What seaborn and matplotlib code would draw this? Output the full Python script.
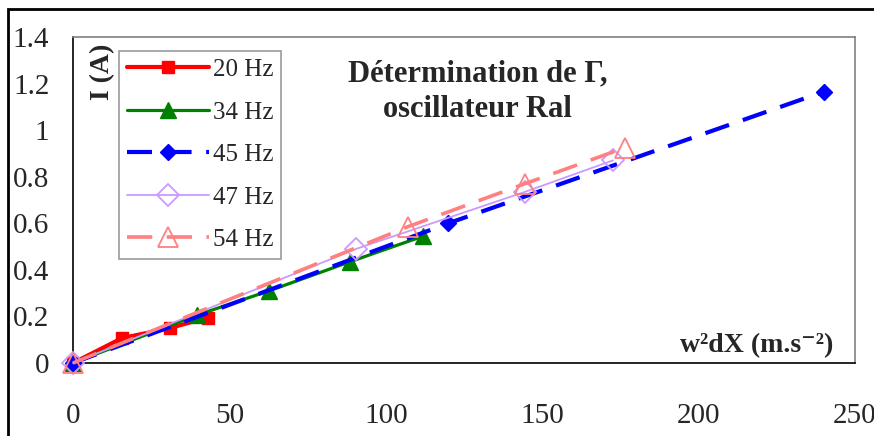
import numpy as np
import pandas as pd
import seaborn as sns
import matplotlib.pyplot as plt
from matplotlib.patches import Rectangle

# data
x_20 = [0, 15.7, 31, 43]
i_20 = [0, 0.107, 0.15, 0.195]
x_34 = [0, 39.5, 62.7, 88.6, 112]
i_34 = [0, 0.205, 0.31, 0.435, 0.545]
x_45 = [0, 120, 240]
i_45 = [0, 0.60, 1.165]
x_47 = [0, 90.5, 144.5, 172.6]
i_47 = [0, 0.49, 0.735, 0.87]
x_54 = [0, 107, 144.5, 176.5]
i_54 = [0, 0.585, 0.77, 0.925]
labels = ["20 Hz", "34 Hz", "45 Hz", "47 Hz", "54 Hz"]

sns.set_style("white")
plt.rcParams['font.family'] = ['Liberation Serif', 'DejaVu Serif']

fig = plt.figure(figsize=(8.74, 4.36), dpi=100)
ax = fig.add_axes([73/874, 1-363/436, (855-73)/874, (363-37)/436])

# outer chart-area border (cut off on the right and bottom in the original)
fig.patches.append(Rectangle((8/874, -0.1), 1.2, 1-9/436+0.1, transform=fig.transFigure,
                             fill=False, edgecolor='black', lw=2))

styles = [
    dict(color='#FF0000', marker='s', linestyle='-', lw=3, ms=9, mfc='#FF0000', mew=1),
    dict(color='#008000', marker='^', linestyle='-', lw=2.3, ms=11, mfc='#008000', mew=1),
    dict(color='#0000FF', marker='D', linestyle=(0, (6, 3.5)), lw=3, ms=8, mfc='#0000FF', mew=1),
    dict(color='#CC99FF', marker='D', linestyle='-', lw=1.3, ms=11, mfc='none', mew=1.3),
    dict(color='#FF8080', marker='^', linestyle=(0, (7, 4)), lw=2.6, ms=15, mfc='none', mew=1.3),
]
series = [(x_20, i_20), (x_34, i_34), (x_45, i_45), (x_47, i_47), (x_54, i_54)]

for (xs, ys), lab, st in zip(series, labels, styles):
    df = pd.DataFrame({'x': xs, 'y': ys})
    sns.lineplot(data=df, x='x', y='y', ax=ax, label=lab, sort=False, estimator=None,
                 color=st['color'], marker=st['marker'], linestyle=st['linestyle'],
                 linewidth=st['lw'], markersize=st['ms'], markeredgewidth=st['mew'],
                 clip_on=False, zorder=3)

for line, st in zip(ax.get_lines(), styles):
    line.set_markeredgecolor(st['color'])
    line.set_markerfacecolor(st['mfc'])

ax.set_xlim(0, 250)
ax.set_ylim(0, 1.4)
ax.set_xticks(np.arange(0, 251, 50))
ax.set_yticks(np.arange(0, 1.41, 0.2))
ax.set_yticklabels(['0', '0.2', '0.4', '0.6', '0.8', '1', '1.2', '1.4'])
ax.tick_params(axis='both', labelsize=21, direction='out', width=1, color='#404040')
ax.tick_params(axis='x', pad=22, length=7)
ax.tick_params(axis='y', pad=9, length=8)
ax.set_xlabel('')
ax.set_ylabel('')

for s in ['top', 'right']:
    ax.spines[s].set_color('#808080')
    ax.spines[s].set_linewidth(1.2)
for s in ['left', 'bottom']:
    ax.spines[s].set_color('black')
    ax.spines[s].set_linewidth(1.2)

ax.text(30/782, 0.98, 'I (A)', transform=ax.transAxes, rotation=90, fontsize=20,
        fontweight='bold', ha='center', va='top')
ax.text(0.972, 0.015, 'w²dX (m.s⁻²)', transform=ax.transAxes,
        fontsize=20, fontweight='bold', ha='right', va='bottom')
ax.text(0.517, 0.831, 'Détermination de Γ,\noscillateur Ral', transform=ax.transAxes,
        fontsize=22, fontweight='bold', ha='center', va='center', linespacing=1.3)

leg = ax.legend(loc='upper left', bbox_to_anchor=(46/782, 1-14/326), fontsize=18,
                frameon=True, fancybox=False, edgecolor='#808080', handlelength=3.3,
                handletextpad=0.15, labelspacing=0.8, borderpad=0.3, borderaxespad=0)
leg.get_frame().set_linewidth(1.2)

fig.savefig('out.png', dpi=100)
